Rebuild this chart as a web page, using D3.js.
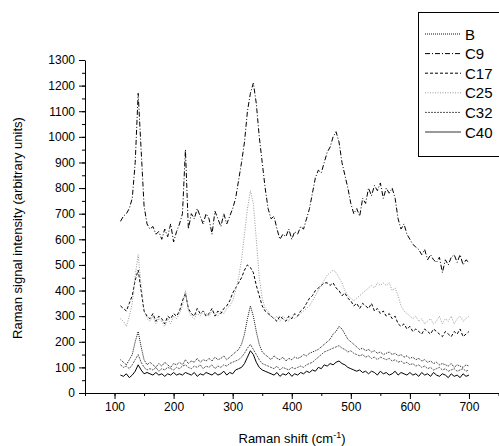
<!DOCTYPE html>
<html>
<head>
<meta charset="utf-8">
<script src="https://cdn.jsdelivr.net/npm/d3@7"></script>
<style>
  body { margin: 0; background: #fff; }
  svg { display: block; font-family: "Liberation Sans", Arial, sans-serif; }
  .axis path, .axis line { stroke: #000; stroke-width: 1; }
  .axis text { font-size: 12px; fill: #000; font-family: "Liberation Sans", Arial, sans-serif; }
</style>
</head>
<body>
<svg id="chart" width="499" height="446"></svg>
<script>
// raman shift grid, 110..700 cm-1 every 5
var shift = d3.range(110, 701, 5);

var seriesNames = ['B', 'C9', 'C17', 'C25', 'C32', 'C40'];

var C9 = [670, 690, 700, 720, 760, 900, 1170, 950, 730, 660,
  640, 650, 620, 630, 600, 640, 610, 660, 590, 630,
  660, 700, 950, 640, 700, 680, 720, 690, 660, 700,
  680, 620, 710, 680, 650, 700, 660, 690, 720, 760,
  830, 900, 980, 1100, 1170, 1210, 1130, 1000, 900, 800,
  720, 680, 690, 640, 600, 620, 610, 640, 600, 630,
  620, 650, 640, 680, 720, 780, 840, 870, 860, 900,
  940, 960, 1000, 1020, 980, 900, 850, 800, 740, 700,
  720, 690, 760, 740, 800, 770, 810, 790, 820, 760,
  800, 780, 800, 760, 680, 640, 660, 620, 600, 580,
  570, 560, 540, 560, 520, 540, 520, 510, 530, 470,
  520, 500, 530, 540, 510, 540, 500, 520, 510];

var C17 = [340, 330, 320, 350, 380, 440, 480, 400, 320, 300,
  290, 310, 280, 300, 290, 270, 300, 290, 310, 300,
  320, 360, 390, 330, 310, 300, 330, 310, 320, 300,
  310, 330, 300, 320, 310, 330, 340, 360, 390, 410,
  430, 450, 480, 500, 490, 470, 420, 380, 340, 320,
  310, 300, 290, 280, 300, 290, 280, 300, 290, 310,
  300, 320, 330, 350, 370, 380, 400, 410, 420, 430,
  430, 420, 430, 410, 400, 380, 390, 370, 360, 340,
  350, 330, 350, 340, 330, 350, 320, 330, 310, 320,
  300, 310, 290, 300, 270, 260, 270, 250, 260, 240,
  250, 240, 230, 250, 240, 230, 250, 240, 230, 220,
  240, 230, 220, 240, 230, 250, 220, 230, 240];

var C25 = [290, 280, 260, 300, 350, 460, 540, 420, 320, 290,
  280, 300, 270, 290, 280, 260, 290, 270, 300, 290,
  310, 340, 400, 320, 300, 290, 310, 300, 320, 310,
  300, 320, 310, 300, 320, 310, 330, 340, 360, 400,
  450, 520, 620, 720, 790, 740, 600, 450, 370, 330,
  320, 300, 290, 300, 280, 300, 290, 280, 300, 290,
  300, 310, 320, 330, 340, 360, 380, 400, 420, 440,
  460, 470, 480, 470, 450, 430, 400, 380, 370, 360,
  370, 380, 390, 400, 410, 420, 410, 430, 420, 430,
  420, 430, 400, 410, 380, 340, 320, 310, 300, 290,
  300, 280, 290, 270, 280, 290, 270, 280, 300, 270,
  290, 280, 300, 270, 290, 300, 280, 290, 300];

var B = [130, 120, 110, 130, 150, 200, 240, 180, 130, 110,
  120, 110, 100, 115, 105, 120, 110, 100, 115, 110,
  120, 110, 130, 115, 125, 120, 135, 120, 130, 125,
  135, 125, 140, 130, 135, 145, 130, 140, 150, 160,
  170, 190, 230, 290, 340, 300, 240, 190, 160, 150,
  140, 130, 145, 135, 130, 140, 125, 135, 130, 140,
  135, 140, 150, 145, 155, 160, 165, 170, 180, 190,
  200, 210, 230, 240, 260, 250, 230, 210, 200, 190,
  180, 170, 175, 165, 170, 160, 165, 155, 160, 150,
  155, 160, 150, 155, 145, 150, 140, 145, 135, 140,
  130, 135, 125, 130, 120, 125, 115, 120, 110, 115,
  110, 105, 115, 100, 110, 105, 100, 110, 105];

var C32 = [110, 100, 105, 95, 110, 130, 150, 120, 100, 90,
  95, 90, 100, 85, 95, 90, 100, 95, 90, 100,
  95, 105, 110, 100, 95, 105, 100, 110, 95, 105,
  100, 110, 95, 105, 100, 110, 105, 115, 120, 125,
  130, 140, 155, 175, 190, 170, 150, 130, 115, 110,
  105, 100, 95, 105, 90, 100, 95, 90, 100, 95,
  100, 105, 100, 110, 115, 120, 130, 140, 150, 160,
  165, 170, 175, 180, 185, 175, 170, 160, 165, 155,
  150, 145, 150, 140, 145, 135, 140, 130, 140, 135,
  130, 135, 125, 130, 120, 125, 115, 120, 110, 115,
  105, 110, 100, 105, 95, 100, 90, 95, 100, 90,
  95, 85, 90, 95, 85, 90, 95, 85, 90];

var C40 = [70, 65, 75, 60, 70, 85, 110, 90, 75, 80,
  75, 70, 80, 70, 75, 65, 75, 70, 80, 70,
  75, 70, 80, 75, 70, 80, 65, 75, 70, 80,
  75, 70, 80, 70, 75, 85, 70, 80, 75, 90,
  95, 100, 115, 140, 165, 150, 120, 100, 90, 85,
  80, 75, 70, 80, 65, 75, 70, 80, 65, 75,
  70, 80, 75, 85, 80, 90, 85, 100, 95, 110,
  105, 115, 110, 120, 125, 115, 110, 100, 95, 90,
  85, 90, 80, 85, 75, 85, 80, 70, 85, 75,
  80, 70, 75, 85, 70, 80, 75, 70, 80, 70,
  75, 65, 80, 70, 75, 65, 80, 70, 65, 75,
  70, 60, 75, 65, 70, 60, 75, 65, 70];

var xTicks = [100, 200, 300, 400, 500, 600, 700];
var yTicks = [0, 100, 200, 300, 400, 500, 600, 700, 800, 900, 1000, 1100, 1200, 1300];

var seriesData = { B: B, C9: C9, C17: C17, C25: C25, C32: C32, C40: C40 };

var styles = {
  B:   { stroke: "#111", dash: "1,1", width: 1 },
  C9:  { stroke: "#000", dash: "5,2,1,2", width: 1 },
  C17: { stroke: "#000", dash: "3,2", width: 1 },
  C25: { stroke: "#999", dash: "1,1.5", width: 1 },
  C32: { stroke: "#555", dash: "2,1", width: 1 },
  C40: { stroke: "#000", dash: null, width: 1 }
};

var svg = d3.select("#chart");
var x = d3.scaleLinear().domain([50, 750]).range([85, 498.5]);
var y = d3.scaleLinear().domain([0, 1300]).range([393, 60]);

// minor ticks first
svg.append("g")
    .attr("class", "axis")
    .attr("transform", "translate(0,393)")
    .call(d3.axisBottom(x).tickValues(d3.range(50, 751, 50)).tickSize(3).tickFormat(""))
    .select(".domain").remove();
svg.append("g")
    .attr("class", "axis")
    .attr("transform", "translate(85,0)")
    .call(d3.axisLeft(y).tickValues(d3.range(50, 1300, 50)).tickSize(3).tickFormat(""))
    .select(".domain").remove();

svg.append("g")
    .attr("class", "axis")
    .attr("transform", "translate(0,393)")
    .call(d3.axisBottom(x).tickValues(xTicks).tickSize(6).tickSizeOuter(0).tickPadding(3).tickFormat(d3.format("d")));

svg.append("g")
    .attr("class", "axis")
    .attr("transform", "translate(85,0)")
    .call(d3.axisLeft(y).tickValues(yTicks).tickSize(6).tickSizeOuter(0).tickPadding(4).tickFormat(d3.format("d")));

var line = d3.line()
    .x(function(d, i) { return x(shift[i]); })
    .y(function(d) { return y(d); });

seriesNames.forEach(function(name) {
  var st = styles[name];
  svg.append("path")
      .datum(seriesData[name])
      .attr("fill", "none")
      .attr("stroke", st.stroke)
      .attr("stroke-width", st.width)
      .attr("stroke-dasharray", st.dash)
      .attr("d", line);
});

// axis titles
var xt = svg.append("text")
    .attr("x", 292).attr("y", 443)
    .attr("text-anchor", "middle")
    .style("font-size", "13px");
xt.append("tspan").text("Raman shift (cm");
xt.append("tspan").attr("dy", -5).style("font-size", "9px").text("-1");
xt.append("tspan").attr("dy", 5).text(")");

svg.append("text")
    .attr("transform", "translate(22,228) rotate(-90)")
    .attr("text-anchor", "middle")
    .style("font-size", "13px")
    .text("Raman signal intensity (arbitrary units)");

// legend
var legend = svg.append("g");
legend.append("rect")
    .attr("x", 418.5).attr("y", 12.5)
    .attr("width", 100).attr("height", 144)
    .attr("fill", "#fff").attr("stroke", "#000");

seriesNames.forEach(function(name, i) {
  var st = styles[name];
  var yy = 34 + i * 19.6;
  legend.append("line")
      .attr("x1", 425).attr("x2", 461)
      .attr("y1", yy).attr("y2", yy)
      .attr("stroke", name == "C40" ? "#777" : st.stroke)
      .attr("stroke-width", name == "C40" ? 1.5 : 1)
      .attr("stroke-dasharray", st.dash);
  legend.append("text")
      .attr("x", 465).attr("y", yy + 5.5)
      .style("font-size", "15px")
      .text(name);
});
</script>
</body>
</html>
